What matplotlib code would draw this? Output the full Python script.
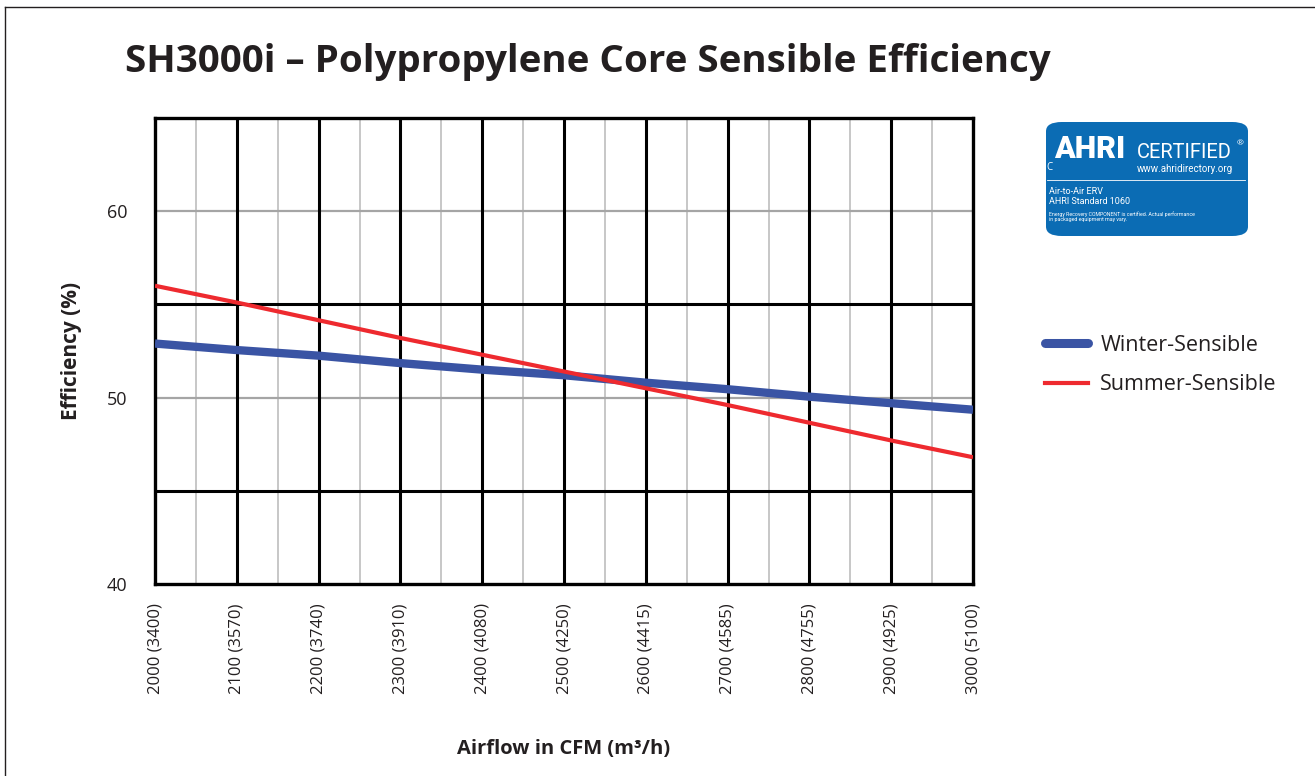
import numpy as np
import matplotlib.pyplot as plt
from matplotlib.patches import FancyBboxPatch
from matplotlib.lines import Line2D

plt.rcParams['font.family'] = ['Open Sans', 'DejaVu Sans']

# airflow in CFM and the matching m3/h labels
cfm = [2000, 2100, 2200, 2300, 2400, 2500, 2600, 2700, 2800, 2900, 3000]
m3h = [3400, 3570, 3740, 3910, 4080, 4250, 4415, 4585, 4755, 4925, 5100]
tick_labels = [f"{c} ({m})" for c, m in zip(cfm, m3h)]

winter = [52.9, 52.55, 52.25, 51.85, 51.5, 51.2, 50.8, 50.45, 50.05, 49.7, 49.35]
summer = [56.0, 55.1, 54.15, 53.2, 52.3, 51.4, 50.5, 49.6, 48.65, 47.7, 46.8]

fig = plt.figure(figsize=(13.15, 7.76), dpi=100)
ax = fig.add_axes([155/1315, 1-584/776, (973-155)/1315, (584-118)/776])

ax.set_xlim(2000, 3000)
ax.set_ylim(40, 65)

# grid: black at every 100 CFM and 45/55, gray in between
for x in np.arange(2050, 3000, 100):
    ax.axvline(x, color='#bdbdbd', lw=1.2, zorder=1)
for x in np.arange(2100, 3000, 100):
    ax.axvline(x, color='black', lw=2.2, zorder=1.5)
for y in [50, 60]:
    ax.axhline(y, color='#a5a5a5', lw=1.6, zorder=1.2)
for y in [45, 55]:
    ax.axhline(y, color='black', lw=2.2, zorder=1.5)

ax.plot(cfm, winter, color='#3a54a4', lw=6, solid_capstyle='butt', zorder=3)
ax.plot(cfm, summer, color='#ee2a2f', lw=3, solid_capstyle='butt', zorder=4)

for s in ax.spines.values():
    s.set_linewidth(2.4)
    s.set_color('black')

ax.set_yticks([40, 50, 60])
ax.set_yticklabels(['40', '50', '60'], fontsize=13, color='#231f20')
ax.set_xticks(cfm)
ax.set_xticklabels(tick_labels, rotation=90, fontsize=12, color='#231f20')
ax.tick_params(length=0, pad=20, axis='y')
ax.tick_params(length=0, pad=14, axis='x')

ax.set_ylabel('Efficiency (%)', fontsize=15, fontweight='bold', color='#231f20', labelpad=18)
ax.set_xlabel('Airflow in CFM (m³/h)', fontsize=14.5, fontweight='bold', color='#231f20', labelpad=32)

fig.text(125/1315, 1-62/776, 'SH3000i – Polypropylene Core Sensible Efficiency',
         fontsize=27.7, fontweight='bold', color='#231f20', va='center', ha='left')

# legend
leg_handles = [Line2D([], [], color='#3a54a4', lw=6.5, solid_capstyle='round'),
               Line2D([], [], color='#ee2a2f', lw=3)]
fig.legend(leg_handles, ['Winter-Sensible', 'Summer-Sensible'],
           loc='center left', bbox_to_anchor=(1026/1315, 1-365/776), frameon=False,
           fontsize=15.5, handlelength=2.0, handletextpad=0.55, labelspacing=0.85,
           labelcolor='#231f20')

# AHRI certified badge
badge = FancyBboxPatch((1046/1315, 1-236/776), (1248-1046)/1315, (236-122)/776,
                       boxstyle='round,pad=0,rounding_size=0.012',
                       transform=fig.transFigure, facecolor='#0b6cb4', edgecolor='none')
fig.patches.append(badge)
fig.text(1054/1315, 1-149/776, 'AHRI', fontsize=22, fontweight='black', color='white',
         family='Roboto', va='center', ha='left')
fig.text(1137/1315, 1-152/776, 'CERTIFIED', fontsize=14.5, color='white',
         family='Roboto', va='center', ha='left')
fig.text(1240/1315, 1-144/776, '®', fontsize=6, color='white', va='center', ha='center')
fig.text(1046/1315, 1-168/776, 'C', fontsize=7, color='white', va='center', ha='left')
fig.text(1137/1315, 1-169/776, 'www.ahridirectory.org', fontsize=7, color='white',
         family='Roboto', va='center', ha='left')
fig.add_artist(Line2D([1047/1315, 1245/1315], [1-180/776, 1-180/776],
                      transform=fig.transFigure, color='white', lw=0.6))
fig.text(1049/1315, 1-192/776, 'Air-to-Air ERV', fontsize=6.5, color='white',
         family='Roboto', va='center', ha='left')
fig.text(1049/1315, 1-201/776, 'AHRI Standard 1060', fontsize=6.5, color='white',
         family='Roboto', va='center', ha='left')
fig.text(1049/1315, 1-214/776, 'Energy Recovery COMPONENT is certified. Actual performance',
         fontsize=3.8, color='white', family='Roboto', va='center', ha='left')
fig.text(1049/1315, 1-220/776, 'in packaged equipment may vary.',
         fontsize=3.8, color='white', family='Roboto', va='center', ha='left')

# page border (top and left edges)
fig.add_artist(Line2D([5/1315, 1], [1-7/776, 1-7/776], transform=fig.transFigure,
                      color='#231f20', lw=1))
fig.add_artist(Line2D([5/1315, 5/1315], [0, 1-7/776], transform=fig.transFigure,
                      color='#231f20', lw=1))

fig.savefig('out.png', dpi=100)
